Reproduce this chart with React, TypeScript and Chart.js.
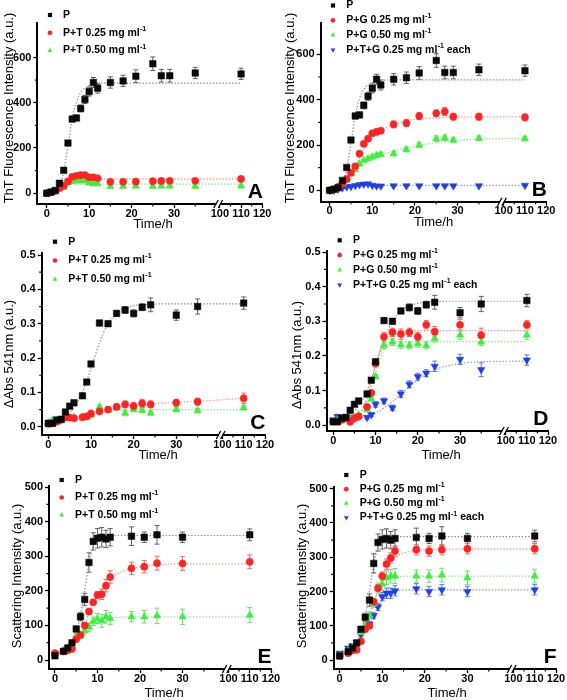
import React, { useEffect, useRef } from 'react';
import { Chart, registerables } from 'chart.js';

Chart.register(...registerables);

const FONT = "Arial, 'Liberation Sans', Helvetica, sans-serif";

// ---------- time (x) values ----------
const timeAB = [0, 1, 2, 3, 4, 5, 6, 7, 8, 9, 10, 11, 12, 15, 18, 21, 25, 27, 29, 35, 110];
const timeCD = [0, 1, 2, 3, 4, 5, 6, 8, 9, 10, 12, 14, 16, 18, 20, 22, 24, 30, 35, 110];
const timeEF = [0, 2, 3, 4, 5, 6, 7, 8, 9, 10, 11, 12, 13, 18, 21, 24, 30, 110];
const fitTimeAB = [0, 1, 2, 3, 4, 5, 6, 7, 8, 9, 10, 11, 12, 14, 16, 18, 20, 25, 30, 35, 110];
const fitTimeCD = [0, 2, 4, 6, 8, 10, 12, 14, 16, 18, 20, 24, 30, 35, 110];
const fitTimeEF = [0, 2, 4, 5, 6, 7, 8, 9, 10, 11, 12, 13, 14, 16, 18, 21, 24, 30, 110];

// ---------- tick values ----------
const xTickValues = [0, 10, 20, 30, 100, 110, 120];
const xMinorValues = [5, 15, 25, 35, 105, 115];
const yTicksThT = [0, 200, 400, 600];
const yTicksAbs = [0, 0.1, 0.2, 0.3, 0.4, 0.5];
const yTicksScat = [0, 100, 200, 300, 400, 500];

// ---------- legend labels ----------
const labelsT = ['P', 'P+T 0.25 mg ml^-1', 'P+T 0.50 mg ml^-1'];
const labelsG = ['P', 'P+G 0.25 mg ml^-1', 'P+G 0.50 mg ml^-1', 'P+T+G 0.25 mg ml^-1 each'];

// ---------- ThT fluorescence (A, B) ----------
const thtP = [0, 5, 12, 44, 101, 222, 328, 333, 375, 415, 450, 490, 465, 490, 497, 518, 573, 520, 520, 532, 528];
const thtPErr = [3, 3, 4, 6, 8, 10, 12, 12, 15, 18, 20, 22, 22, 25, 25, 28, 30, 28, 28, 25, 25];
const thtPFit = [2, 5, 12, 35, 95, 210, 330, 405, 445, 465, 476, 482, 485, 487, 487, 487, 487, 487, 487, 487, 487];

const thtT25 = [0, 3, 10, 22, 32, 52, 72, 77, 80, 80, 70, 70, 66, 50, 50, 51, 53, 54, 55, 55, 63];
const thtT25Err = [3, 3, 3, 4, 4, 5, 6, 6, 6, 6, 6, 6, 6, 8, 8, 8, 8, 8, 8, 10, 10];
const thtT25Fit = [0, 3, 10, 22, 36, 50, 58, 61, 62, 63, 63, 63, 63, 63, 63, 63, 63, 63, 63, 63, 63];

const thtT50 = [0, 3, 8, 20, 27, 48, 52, 53, 55, 54, 46, 41, 41, 30, 30, 31, 30, 31, 31, 30, 32];
const thtT50Err = [3, 3, 3, 3, 4, 4, 5, 5, 5, 5, 5, 5, 5, 6, 6, 6, 6, 6, 6, 6, 8];
const thtT50Fit = [0, 3, 8, 20, 30, 37, 40, 40, 40, 40, 40, 40, 40, 40, 40, 40, 40, 40, 40, 40, 40];

const thtG25 = [0, 5, 15, 30, 50, 78, 106, 162, 205, 228, 252, 258, 263, 291, 297, 328, 340, 348, 325, 325, 322];
const thtG25Err = [3, 3, 4, 5, 6, 6, 8, 8, 8, 10, 10, 12, 12, 15, 15, 15, 15, 18, 15, 15, 15];
const thtG25Fit = [0, 5, 15, 30, 50, 78, 110, 145, 180, 208, 232, 250, 263, 282, 296, 306, 313, 320, 323, 324, 325];

const thtG50 = [0, 5, 15, 28, 45, 72, 90, 117, 132, 140, 147, 155, 159, 162, 180, 200, 228, 232, 222, 230, 228];
const thtG50Err = [3, 3, 4, 5, 5, 6, 6, 6, 6, 8, 8, 8, 8, 10, 10, 10, 12, 12, 10, 10, 10];
const thtG50Fit = [0, 5, 15, 28, 45, 65, 85, 102, 116, 128, 138, 147, 155, 168, 178, 187, 195, 210, 220, 226, 230];

const thtTG = [0, 0, 5, 11, 15, 17, 21, 25, 27, 28, 22, 19, 19, 20, 20, 20, 20, 20, 20, 20, 22];
const thtTGErr = [2, 2, 2, 3, 3, 3, 3, 3, 3, 3, 3, 3, 3, 3, 3, 3, 3, 3, 3, 3, 3];
const thtTGFit = [0, 2, 5, 9, 13, 16, 19, 21, 22, 22, 22, 22, 22, 22, 22, 22, 22, 22, 22, 22, 22];

// ---------- ΔAbs 541 nm (C, D) ----------
const absP = [0.01, 0.01, 0.02, 0.022, 0.043, 0.06, 0.07, 0.09, 0.13, 0.183, 0.302, 0.3, 0.33, 0.34, 0.33, 0.348, 0.355, 0.325, 0.35, 0.36];
const absPErr = [0.003, 0.003, 0.003, 0.003, 0.004, 0.004, 0.004, 0.004, 0.005, 0.005, 0.008, 0.008, 0.008, 0.01, 0.01, 0.01, 0.02, 0.015, 0.022, 0.018];
const absPFit = [0.01, 0.015, 0.03, 0.055, 0.1, 0.17, 0.245, 0.3, 0.33, 0.345, 0.352, 0.357, 0.358, 0.358, 0.358];

const absT25 = [0.008, 0.01, 0.015, 0.02, 0.027, 0.027, 0.025, 0.028, 0.03, 0.038, 0.045, 0.05, 0.058, 0.065, 0.06, 0.068, 0.065, 0.07, 0.073, 0.083];
const absT25Err = [0.003, 0.003, 0.003, 0.004, 0.004, 0.004, 0.004, 0.005, 0.005, 0.01, 0.006, 0.008, 0.008, 0.01, 0.01, 0.012, 0.01, 0.01, 0.01, 0.015];
const absT25Fit = [0.008, 0.015, 0.022, 0.028, 0.033, 0.04, 0.046, 0.052, 0.056, 0.06, 0.063, 0.067, 0.071, 0.074, 0.083];

const absT50 = [0.012, 0.02, 0.012, 0.018, 0.028, 0.025, 0.027, 0.028, 0.028, 0.035, 0.058, 0.048, 0.055, 0.04, 0.05, 0.048, 0.04, 0.05, 0.047, 0.055];
const absT50Err = [0.003, 0.003, 0.003, 0.004, 0.004, 0.004, 0.004, 0.004, 0.005, 0.005, 0.005, 0.006, 0.006, 0.008, 0.006, 0.006, 0.006, 0.006, 0.006, 0.006];
const absT50Fit = [0.012, 0.016, 0.02, 0.025, 0.03, 0.035, 0.04, 0.044, 0.047, 0.049, 0.05, 0.05, 0.05, 0.05, 0.05];

const absG25 = [0.01, 0.01, 0.015, 0.02, 0.01, 0.02, 0.025, 0.053, 0.093, 0.178, 0.255, 0.268, 0.263, 0.268, 0.255, 0.29, 0.27, 0.29, 0.26, 0.29];
const absG25Err = [0.003, 0.003, 0.003, 0.003, 0.003, 0.004, 0.004, 0.005, 0.005, 0.01, 0.012, 0.012, 0.015, 0.012, 0.012, 0.012, 0.015, 0.015, 0.02, 0.012];
const absG25Fit = [0.01, 0.012, 0.015, 0.03, 0.08, 0.17, 0.25, 0.27, 0.273, 0.273, 0.273, 0.273, 0.273, 0.273, 0.273];

const absG50 = [0.012, 0.015, 0.02, 0.018, 0.02, 0.022, 0.03, 0.045, 0.075, 0.14, 0.23, 0.24, 0.232, 0.23, 0.235, 0.23, 0.25, 0.26, 0.24, 0.26];
const absG50Err = [0.003, 0.003, 0.003, 0.003, 0.003, 0.004, 0.004, 0.005, 0.005, 0.006, 0.01, 0.01, 0.01, 0.01, 0.01, 0.01, 0.01, 0.012, 0.01, 0.012];
const absG50Fit = [0.012, 0.014, 0.017, 0.03, 0.07, 0.15, 0.222, 0.24, 0.241, 0.241, 0.241, 0.241, 0.241, 0.241, 0.241];

const absTG = [0.015, 0.025, 0.02, 0.025, 0.022, 0.02, 0.025, 0.022, 0.03, 0.06, 0.07, 0.05, 0.09, 0.118, 0.14, 0.15, 0.17, 0.19, 0.16, 0.188];
const absTGErr = [0.005, 0.005, 0.005, 0.005, 0.005, 0.005, 0.005, 0.005, 0.005, 0.008, 0.008, 0.008, 0.01, 0.01, 0.01, 0.01, 0.015, 0.015, 0.02, 0.015];
const absTGFit = [0.015, 0.016, 0.018, 0.02, 0.025, 0.035, 0.05, 0.068, 0.09, 0.112, 0.132, 0.16, 0.178, 0.183, 0.185];

// ---------- Scattering intensity (E, F) ----------
const scP = [12, 25, 35, 50, 90, 125, 175, 282, 343, 352, 355, 350, 355, 358, 355, 362, 355, 362];
const scPErr = [5, 5, 5, 6, 8, 12, 18, 28, 25, 28, 28, 25, 25, 27, 15, 27, 15, 17];
const scPFit = [15, 25, 50, 80, 130, 200, 280, 330, 352, 358, 360, 360, 360, 360, 360, 360, 360, 360, 360];

const scT25 = [20, 25, 28, 32, 60, 72, 100, 140, 167, 188, 190, 215, 240, 265, 270, 280, 279, 284];
const scT25Err = [5, 5, 5, 5, 6, 6, 8, 8, 8, 10, 15, 18, 18, 18, 18, 20, 20, 20];
const scT25Fit = [20, 28, 40, 55, 75, 100, 135, 162, 185, 205, 222, 235, 245, 256, 265, 271, 275, 278, 278];

const scT50 = [18, 28, 35, 40, 70, 72, 85, 95, 112, 120, 113, 125, 120, 125, 125, 128, 125, 130];
const scT50Err = [5, 5, 5, 5, 8, 8, 10, 12, 12, 15, 18, 18, 18, 15, 18, 22, 22, 22];
const scT50Fit = [18, 30, 45, 60, 75, 88, 100, 108, 113, 117, 120, 122, 123, 124, 125, 125, 125, 125, 125];

const scG25 = [12, 20, 28, 30, 55, 90, 100, 170, 210, 245, 280, 298, 318, 322, 318, 322, 325, 325];
const scG25Err = [5, 5, 5, 5, 6, 6, 8, 10, 10, 12, 15, 15, 15, 15, 15, 15, 15, 15];
const scG25Fit = [12, 25, 40, 60, 85, 120, 160, 205, 240, 265, 285, 298, 308, 316, 320, 322, 323, 324, 324];

const scG50 = [15, 28, 38, 48, 80, 100, 130, 165, 210, 222, 240, 245, 245, 245, 245, 248, 240, 245];
const scG50Err = [5, 5, 5, 5, 8, 8, 10, 12, 15, 18, 20, 20, 22, 18, 18, 20, 20, 20];
const scG50Fit = [15, 30, 48, 72, 100, 135, 170, 200, 220, 232, 240, 243, 244, 245, 245, 245, 245, 245, 245];

const scTG = [20, 35, 42, 52, 75, 92, 105, 130, 155, 185, 195, 195, 202, 208, 200, 205, 200, 205];
const scTGErr = [5, 5, 5, 5, 6, 6, 8, 8, 10, 12, 15, 15, 15, 15, 15, 15, 15, 15];
const scTGFit = [20, 35, 50, 70, 90, 110, 130, 152, 175, 188, 195, 200, 203, 205, 205, 205, 205, 205, 205];

// ---------- broken axis mapping (0..40 | 100..120) ----------
const toDisp = (t: number) => (t <= 40 ? t : 40.8 + (t - 100) * 0.5);
const BREAK_AT = 40.4;
const X_MAX = toDisp(120);

type StyleKey = 'black' | 'red' | 'green' | 'blue';
const STYLE: Record<StyleKey, any> = {
  black: { fill: '#0a0a0a', err: '#606060', fit: '#8a8a8a', shape: 'rect', rot: 0, r: 4.6 },
  red: { fill: '#ff2424', err: '#ee6a6a', fit: '#f39090', shape: 'circle', rot: 0, r: 3.6 },
  green: { fill: '#3cf03c', err: '#70d870', fit: '#86e486', shape: 'triangle', rot: 0, r: 4.3 },
  blue: { fill: '#1f3fe8', err: '#6275d8', fit: '#8593d8', shape: 'triangle', rot: 180, r: 4.3 },
};

type Series = { label: string; style: StyleKey; t: number[]; y: number[]; e: number[]; ft: number[]; f: number[] };

const seriesA: Series[] = [
  { label: labelsT[0], style: 'black', t: timeAB, y: thtP, e: thtPErr, ft: fitTimeAB, f: thtPFit },
  { label: labelsT[1], style: 'red', t: timeAB, y: thtT25, e: thtT25Err, ft: fitTimeAB, f: thtT25Fit },
  { label: labelsT[2], style: 'green', t: timeAB, y: thtT50, e: thtT50Err, ft: fitTimeAB, f: thtT50Fit },
];
const seriesB: Series[] = [
  { label: labelsG[0], style: 'black', t: timeAB, y: thtP, e: thtPErr, ft: fitTimeAB, f: thtPFit },
  { label: labelsG[1], style: 'red', t: timeAB, y: thtG25, e: thtG25Err, ft: fitTimeAB, f: thtG25Fit },
  { label: labelsG[2], style: 'green', t: timeAB, y: thtG50, e: thtG50Err, ft: fitTimeAB, f: thtG50Fit },
  { label: labelsG[3], style: 'blue', t: timeAB, y: thtTG, e: thtTGErr, ft: fitTimeAB, f: thtTGFit },
];
const seriesC: Series[] = [
  { label: labelsT[0], style: 'black', t: timeCD, y: absP, e: absPErr, ft: fitTimeCD, f: absPFit },
  { label: labelsT[1], style: 'red', t: timeCD, y: absT25, e: absT25Err, ft: fitTimeCD, f: absT25Fit },
  { label: labelsT[2], style: 'green', t: timeCD, y: absT50, e: absT50Err, ft: fitTimeCD, f: absT50Fit },
];
const seriesD: Series[] = [
  { label: labelsG[0], style: 'black', t: timeCD, y: absP, e: absPErr, ft: fitTimeCD, f: absPFit },
  { label: labelsG[1], style: 'red', t: timeCD, y: absG25, e: absG25Err, ft: fitTimeCD, f: absG25Fit },
  { label: labelsG[2], style: 'green', t: timeCD, y: absG50, e: absG50Err, ft: fitTimeCD, f: absG50Fit },
  { label: labelsG[3], style: 'blue', t: timeCD, y: absTG, e: absTGErr, ft: fitTimeCD, f: absTGFit },
];
const seriesE: Series[] = [
  { label: labelsT[0], style: 'black', t: timeEF, y: scP, e: scPErr, ft: fitTimeEF, f: scPFit },
  { label: labelsT[1], style: 'red', t: timeEF, y: scT25, e: scT25Err, ft: fitTimeEF, f: scT25Fit },
  { label: labelsT[2], style: 'green', t: timeEF, y: scT50, e: scT50Err, ft: fitTimeEF, f: scT50Fit },
];
const seriesF: Series[] = [
  { label: labelsG[0], style: 'black', t: timeEF, y: scP, e: scPErr, ft: fitTimeEF, f: scPFit },
  { label: labelsG[1], style: 'red', t: timeEF, y: scG25, e: scG25Err, ft: fitTimeEF, f: scG25Fit },
  { label: labelsG[2], style: 'green', t: timeEF, y: scG50, e: scG50Err, ft: fitTimeEF, f: scG50Fit },
  { label: labelsG[3], style: 'blue', t: timeEF, y: scTG, e: scTGErr, ft: fitTimeEF, f: scTGFit },
];

const TITLE_THT = 'ThT Fluorescence Intensity (a.u.)';
const TITLE_ABS = '\u0394Abs 541nm (a.u.)';
const TITLE_SC = 'Scattering Intensity (a.u.)';
const TITLE_X = 'Time/h';

const fmtInt = (v: number) => String(v);
const fmtAbs = (v: number) => v.toFixed(1);

// layout (page coordinates)
const PANELS = [
  { letter: 'A', box: [0, 0, 283, 233], area: [37.4, 23.3, 262.3, 204], xMin: -2.2, yMin: -48, yMax: 752, yTicks: yTicksThT, yMinor: 100, fmt: fmtInt, yTitle: TITLE_THT, yTitleAt: [9, 108], xTitleAt: [153, 227.5], leg: [50, 63, 15, 17.8], series: seriesA },
  { letter: 'B', box: [283, 0, 284, 233], area: [320.7, 23.3, 546.3, 201.7], xMin: -2.1, yMin: -50, yMax: 737, yTicks: yTicksThT, yMinor: 100, fmt: fmtInt, yTitle: TITLE_THT, yTitleAt: [290.5, 108], xTitleAt: [433.5, 226], leg: [333, 346.3, 5.5, 14.8], series: seriesB },
  { letter: 'C', box: [0, 233, 283, 233], area: [41.7, 253.3, 265, 435], xMin: -1.56, yMin: -0.024, yMax: 0.505, yTicks: yTicksAbs, yMinor: 0.05, fmt: fmtAbs, yTitle: TITLE_ABS, yTitleAt: [9, 354], xTitleAt: [158, 459], leg: [55, 68.3, 241.7, 18.8], series: seriesC },
  { letter: 'D', box: [283, 233, 284, 233], area: [326.5, 250.7, 548, 431], xMin: -1.6, yMin: -0.017, yMax: 0.504, yTicks: yTicksAbs, yMinor: 0.05, fmt: fmtAbs, yTitle: TITLE_ABS, yTitleAt: [297, 355], xTitleAt: [441, 459], leg: [339.7, 353, 240.3, 14.9], series: seriesD },
  { letter: 'E', box: [0, 466, 283, 234], area: [49, 485.7, 271, 669], xMin: -1.4, yMin: -26, yMax: 504, yTicks: yTicksScat, yMinor: 50, fmt: fmtInt, yTitle: TITLE_SC, yTitleAt: [17.5, 576], xTitleAt: [164, 697], leg: [61.7, 75, 480, 17.5], series: seriesE },
  { letter: 'F', box: [283, 466, 284, 234], area: [333.7, 487, 556, 669], xMin: -1.4, yMin: -26, yMax: 505, yTicks: yTicksScat, yMinor: 50, fmt: fmtInt, yTitle: TITLE_SC, yTitleAt: [302, 576], xTitleAt: [447, 697], leg: [346.3, 359.7, 475, 14.2], series: seriesF },
];

const LEGEND_MARKER_SCALE = 0.65;

function drawMarker(ctx: CanvasRenderingContext2D, style: StyleKey, x: number, y: number, scale: number) {
  const st = STYLE[style];
  const r = st.r * scale;
  ctx.save();
  ctx.fillStyle = st.fill;
  ctx.beginPath();
  if (st.shape === 'rect') {
    const h = r * Math.SQRT1_2;
    ctx.rect(x - h, y - h, 2 * h, 2 * h);
  } else if (st.shape === 'circle') {
    ctx.arc(x, y, r, 0, Math.PI * 2);
  } else {
    let rad = (st.rot * Math.PI) / 180;
    for (let i = 0; i < 3; i++) {
      const px = x + Math.sin(rad) * r;
      const py = y - Math.cos(rad) * r;
      if (i === 0) ctx.moveTo(px, py);
      else ctx.lineTo(px, py);
      rad += (2 * Math.PI) / 3;
    }
    ctx.closePath();
  }
  ctx.fill();
  ctx.restore();
}

function buildConfig(p: any) {
  const [bx, by, bw, bh] = p.box;
  const [L, T, R, B] = p.area;
  const series: Series[] = p.series;
  const datasets: any[] = [];
  series.forEach((s) => {
    const st = STYLE[s.style];
    datasets.push({
      type: 'line',
      label: s.label,
      data: s.t.map((t, i) => ({ x: toDisp(t), y: s.y[i] })),
      showLine: false,
      pointStyle: st.shape,
      rotation: st.rot,
      pointRadius: st.r,
      pointHoverRadius: st.r,
      pointBackgroundColor: st.fill,
      pointBorderColor: st.fill,
      pointBorderWidth: 0.5,
      borderColor: st.fill,
      errs: s.e,
      errColor: st.err,
      order: 1,
    });
  });
  series.forEach((s) => {
    const st = STYLE[s.style];
    datasets.push({
      type: 'line',
      label: s.label + ' fit',
      data: s.ft.map((t, i) => ({ x: toDisp(t), y: s.f[i] })),
      borderColor: st.fit,
      borderWidth: 1.2,
      borderDash: [1.4, 1.8],
      pointRadius: 0,
      cubicInterpolationMode: 'monotone',
      fill: false,
      order: 5,
    });
  });

  const deco = {
    id: 'deco' + p.letter,
    beforeDatasetsDraw(chart: any) {
      const ctx = chart.ctx;
      const xs = chart.scales.x;
      const ys = chart.scales.y;
      ctx.save();
      chart.data.datasets.forEach((ds: any) => {
        if (!ds.errs) return;
        ctx.strokeStyle = ds.errColor;
        ctx.lineWidth = 1;
        ds.data.forEach((pt: any, i: number) => {
          const e = ds.errs[i];
          const x = xs.getPixelForValue(pt.x);
          const y1 = ys.getPixelForValue(pt.y + e);
          const y2 = ys.getPixelForValue(pt.y - e);
          ctx.beginPath();
          ctx.moveTo(x, y1);
          ctx.lineTo(x, y2);
          ctx.moveTo(x - 2.5, y1);
          ctx.lineTo(x + 2.5, y1);
          ctx.moveTo(x - 2.5, y2);
          ctx.lineTo(x + 2.5, y2);
          ctx.stroke();
        });
      });
      ctx.restore();
    },
    afterDraw(chart: any) {
      const ctx: CanvasRenderingContext2D = chart.ctx;
      const xs = chart.scales.x;
      const ys = chart.scales.y;
      const ca = chart.chartArea;
      ctx.save();
      // minor ticks
      ctx.strokeStyle = '#000';
      ctx.lineWidth = 1.2;
      ctx.beginPath();
      xMinorValues.forEach((t) => {
        const x = xs.getPixelForValue(toDisp(t));
        ctx.moveTo(x, ca.bottom);
        ctx.lineTo(x, ca.bottom + 2.5);
      });
      const yt: number[] = p.yTicks;
      for (let v = yt[0] + p.yMinor; v < yt[yt.length - 1]; v += p.yMinor * 2) {
        const y = ys.getPixelForValue(v);
        ctx.moveTo(ca.left, y);
        ctx.lineTo(ca.left - 2.5, y);
      }
      ctx.stroke();
      // axis break
      const bxp = xs.getPixelForValue(BREAK_AT);
      const yb = ca.bottom;
      ctx.fillStyle = '#fff';
      ctx.fillRect(bxp - 1.8, yb - 2, 3.6, 4);
      ctx.strokeStyle = '#000';
      ctx.lineWidth = 1.3;
      ctx.beginPath();
      [-2.2, 2.2].forEach((dx) => {
        ctx.moveTo(bxp + dx - 2.2, yb + 4);
        ctx.lineTo(bxp + dx + 2.2, yb - 4);
      });
      ctx.stroke();
      // panel letter
      ctx.fillStyle = '#000';
      ctx.font = `bold 21px ${FONT}`;
      ctx.textAlign = 'right';
      ctx.textBaseline = 'alphabetic';
      ctx.fillText(p.letter, ca.right + 0.5, ca.bottom - 6);
      // axis titles
      ctx.font = `13px ${FONT}`;
      ctx.textAlign = 'center';
      ctx.fillText(TITLE_X, p.xTitleAt[0] - bx, p.xTitleAt[1] - by);
      ctx.save();
      ctx.translate(p.yTitleAt[0] - bx, p.yTitleAt[1] - by);
      ctx.rotate(-Math.PI / 2);
      ctx.textBaseline = 'middle';
      ctx.fillText(p.yTitle, 0, 0);
      ctx.restore();
      // legend
      const [mx, tx, y0, dy] = p.leg;
      ctx.textAlign = 'left';
      ctx.textBaseline = 'middle';
      series.forEach((s, i) => {
        const y = y0 + i * dy - by;
        drawMarker(ctx, s.style, mx - bx, y, LEGEND_MARKER_SCALE);
        const parts = s.label.split('^-1');
        ctx.fillStyle = '#000';
        ctx.font = `bold 10.5px ${FONT}`;
        let x = tx - bx;
        ctx.fillText(parts[0], x, y);
        x += ctx.measureText(parts[0]).width;
        if (parts.length > 1) {
          ctx.font = `bold 7px ${FONT}`;
          ctx.fillText('-1', x + 0.3, y - 4);
          x += ctx.measureText('-1').width + 0.3;
          ctx.font = `bold 10.5px ${FONT}`;
          ctx.fillText(parts[1], x, y);
        }
      });
      ctx.restore();
    },
  };

  const tickFont = { family: FONT, size: 11, weight: 'bold' as const, lineHeight: 1 };

  return {
    type: 'line' as const,
    data: { datasets },
    options: {
      responsive: false,
      animation: false as const,
      devicePixelRatio: 1,
      events: [],
      layout: { padding: { left: 0, top: T - by, right: bx + bw - R, bottom: 0 } },
      plugins: { legend: { display: false }, tooltip: { enabled: false }, title: { display: false } },
      scales: {
        x: {
          type: 'linear' as const,
          min: p.xMin,
          max: X_MAX,
          afterBuildTicks: (s: any) => {
            s.ticks = xTickValues.map((v) => ({ value: toDisp(v) }));
          },
          afterFit: (s: any) => {
            s.height = by + bh - B;
          },
          ticks: {
            autoSkip: false,
            maxRotation: 0,
            padding: 0,
            color: '#000',
            font: tickFont,
            callback: (_v: any, i: number) => String(xTickValues[i]),
          },
          grid: { drawOnChartArea: false, drawTicks: true, tickLength: 4, tickColor: '#000', tickWidth: 1.3 },
          border: { display: true, color: '#000', width: 2 },
          title: { display: false },
        },
        y: {
          type: 'linear' as const,
          min: p.yMin,
          max: p.yMax,
          afterBuildTicks: (s: any) => {
            s.ticks = p.yTicks.map((v: number) => ({ value: v }));
          },
          afterFit: (s: any) => {
            s.width = L - bx;
          },
          ticks: {
            autoSkip: false,
            padding: 2,
            color: '#000',
            font: tickFont,
            callback: (_v: any, i: number) => p.fmt(p.yTicks[i]),
          },
          grid: { drawOnChartArea: false, drawTicks: true, tickLength: 4, tickColor: '#000', tickWidth: 1.3 },
          border: { display: true, color: '#000', width: 2 },
          title: { display: false },
        },
      },
    },
    plugins: [deco],
  };
}

function Panel({ p }: { p: any }) {
  const ref = useRef<HTMLCanvasElement>(null);
  useEffect(() => {
    const chart = new Chart(ref.current as HTMLCanvasElement, buildConfig(p) as any);
    return () => chart.destroy();
  }, [p]);
  const [bx, by, bw, bh] = p.box;
  return (
    <canvas
      ref={ref}
      width={bw}
      height={bh}
      style={{ position: 'absolute', left: bx, top: by, width: bw, height: bh }}
    />
  );
}

export default function App() {
  return (
    <div style={{ position: 'absolute', left: 0, top: 0, width: 567, height: 700, background: '#fff', overflow: 'hidden' }}>
      {PANELS.map((p) => (
        <Panel key={p.letter} p={p} />
      ))}
    </div>
  );
}
